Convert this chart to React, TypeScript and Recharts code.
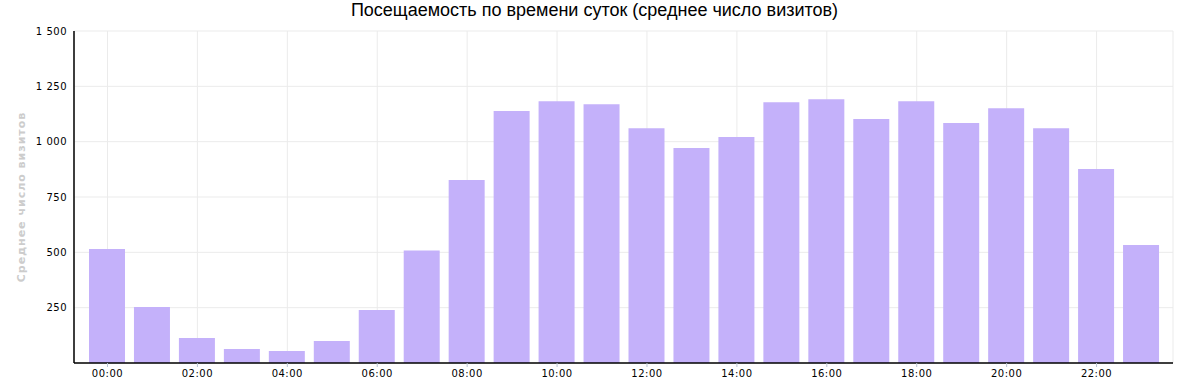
import React from 'react';
import { BarChart, Bar, XAxis, YAxis, CartesianGrid } from 'recharts';

const hours = [
  '00:00', '01:00', '02:00', '03:00', '04:00', '05:00', '06:00', '07:00',
  '08:00', '09:00', '10:00', '11:00', '12:00', '13:00', '14:00', '15:00',
  '16:00', '17:00', '18:00', '19:00', '20:00', '21:00', '22:00', '23:00',
];
const visits = [
  515, 253, 113, 63, 54, 99, 239, 508, 827, 1138, 1183, 1169,
  1061, 971, 1021, 1178, 1192, 1102, 1183, 1084, 1151, 1061, 876, 533,
];
const hourTicks = ['00:00', '02:00', '04:00', '06:00', '08:00', '10:00', '12:00', '14:00', '16:00', '18:00', '20:00', '22:00'];
const valueTicks = [250, 500, 750, 1000, 1250, 1500];

const data = hours.map((h, i) => ({ hour: h, visits: visits[i] }));

const fmt = (v: number) => String(v).replace(/\B(?=(\d{3})+(?!\d))/g, ' ');

const tickFont = { fontFamily: 'DejaVu Sans', fontSize: 10, fill: '#000', letterSpacing: 0.5 };

export default function App() {
  return (
    <div style={{ position: 'absolute', left: 0, top: 0, width: 1189, height: 384, background: '#fff' }}>
      <div
        style={{
          position: 'absolute',
          top: 0,
          left: 0,
          width: 1189,
          textAlign: 'center',
          fontFamily: 'Liberation Sans',
          fontSize: 18,
          lineHeight: '20px',
          color: '#000',
        }}
      >
        Посещаемость по времени суток (среднее число визитов)
      </div>
      <BarChart
        width={1189}
        height={384}
        data={data}
        margin={{ top: 31, right: 16, bottom: 0, left: 0 }}
        barSize={36}
      >
        <CartesianGrid stroke="#ebebeb" />
        <XAxis
          dataKey="hour"
          ticks={hourTicks}
          interval={0}
          height={21}
          padding={{ left: 11, right: 9 }}
          axisLine={{ stroke: '#000', strokeWidth: 1.5 }}
          tickLine={{ stroke: '#b8c4d4' }}
          tickSize={4}
          tickMargin={3}
          tick={tickFont}
        />
        <YAxis
          width={74}
          domain={[0, 1500]}
          ticks={valueTicks}
          tickFormatter={fmt}
          axisLine={{ stroke: '#000', strokeWidth: 1.5 }}
          tickLine={false}
          tickSize={5}
          tickMargin={2}
          tick={tickFont}
          label={{
            value: 'Среднее число визитов',
            angle: -90,
            position: 'center',
            dx: -16,
            style: { fontFamily: 'DejaVu Sans', fontSize: 11, fontWeight: 'bold', fill: '#cccccc', letterSpacing: 1 },
          }}
        />
        <Bar dataKey="visits" fill="#c4b1fa" isAnimationActive={false} />
      </BarChart>
    </div>
  );
}
